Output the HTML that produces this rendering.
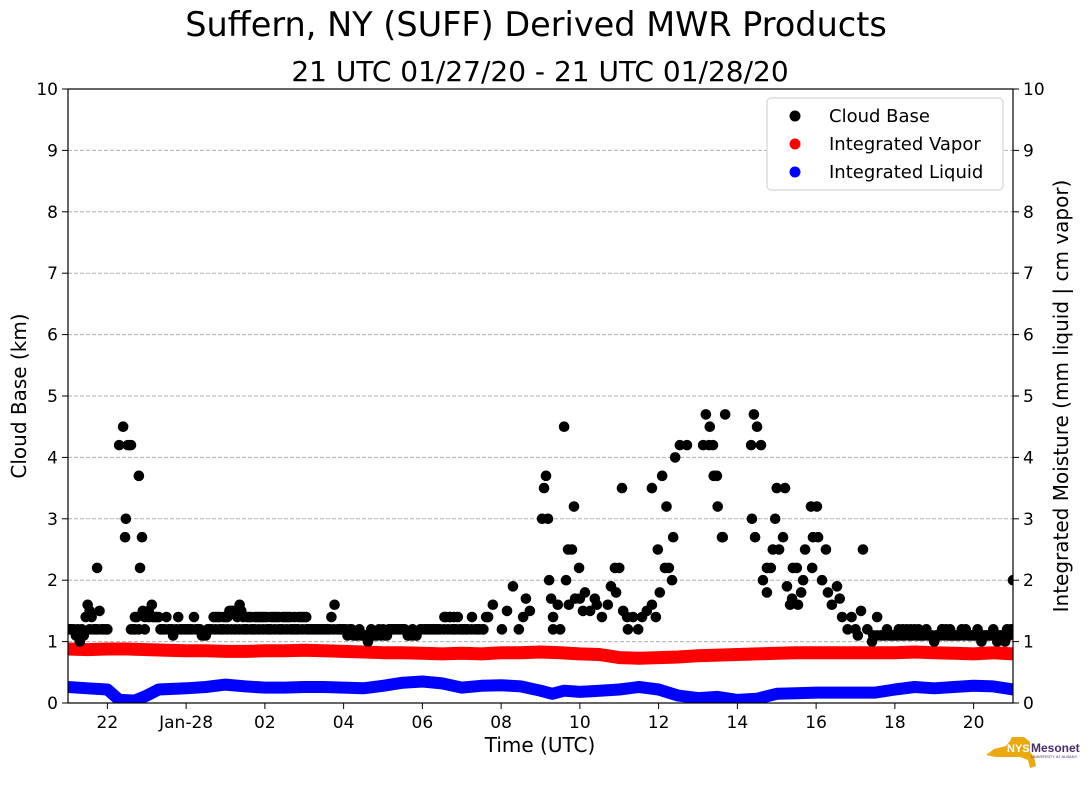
<!DOCTYPE html>
<html><head><meta charset="utf-8"><style>
body{margin:0;background:#fff;}
svg{display:block;font-family:"DejaVu Sans","Liberation Sans",sans-serif;}
</style></head><body>
<svg id="chart" width="1089" height="804" viewBox="0 0 1089 804" xmlns="http://www.w3.org/2000/svg">
<rect width="1089" height="804" fill="#fff"/>
<text x="536" y="36" font-size="33.5" text-anchor="middle">Suffern, NY (SUFF) Derived MWR Products</text>
<text x="540" y="81" font-size="28" text-anchor="middle">21 UTC 01/27/20 - 21 UTC 01/28/20</text>
<g id="grid"></g>
<g id="series"></g>
<rect x="68" y="89" width="945" height="614" fill="none" stroke="#000" stroke-width="1.2"/>
<g id="axes"></g>
<text x="540" y="752" font-size="20" text-anchor="middle">Time (UTC)</text>
<text transform="translate(26,396) rotate(-90)" font-size="20" text-anchor="middle">Cloud Base (km)</text>
<text transform="translate(1068,396) rotate(-90)" font-size="20" text-anchor="middle">Integrated Moisture (mm liquid | cm vapor)</text>
<g>
<rect x="767" y="98" width="236" height="92" rx="4" fill="#fff" stroke="#ccc"/>
<circle cx="795" cy="116" r="5.5" fill="#000"/>
<text x="829" y="122" font-size="18">Cloud Base</text>
<circle cx="795" cy="144" r="5.5" fill="#f00"/>
<text x="829" y="150" font-size="18">Integrated Vapor</text>
<circle cx="795" cy="172" r="5.5" fill="#00f"/>
<text x="829" y="178" font-size="18">Integrated Liquid</text>
</g>
<g>
<polygon points="1012,737 1024,737 1030,742 1030,752 1034,757 1036,766 1030,768 1028,760 1020,757 996,757 986,755 994,749 1006,746 1010,741" fill="#e9a90f"/>
<text x="1007" y="752" font-size="11" font-weight="bold" fill="#fff" font-family="Liberation Sans">NYS</text>
<text x="1031" y="752" font-size="12" font-weight="bold" fill="#4b2c6a" font-family="Liberation Sans">Mesonet</text>
<text x="1031" y="758" font-size="4" fill="#4b2c6a" font-family="Liberation Sans">UNIVERSITY AT ALBANY</text>
</g>
</svg>
<script>
const cbHours=[0,0.1,0.2,0.3,0.4,0.45,0.5,0.55,0.6,0.7,0.74,0.8,0.9,1.0,1.3,1.4,1.45,1.47,1.57,1.52,1.6,1.65,1.7,1.75,1.8,1.83,1.88,1.9,1.95,2.05,2.13,2.2,2.3,2.4,2.5,2.6,2.67,2.8,2.9,3.0,3.1,3.2,3.3,3.4,3.5,3.6,3.7,3.8,3.9,4.0,4.1,4.2,4.3,4.36,4.4,4.5,4.6,4.7,4.8,4.9,5.0,5.1,5.2,5.3,5.4,5.5,5.6,5.7,5.8,5.9,6.0,6.1,6.2,6.3,6.4,6.5,6.6,6.69,6.77,6.9,7.0,7.1,7.2,7.3,7.4,7.5,7.62,7.7,7.8,7.9,8.0,8.1,8.2,8.3,8.4,8.5,8.63,8.75,8.85,8.97,9.1,9.2,9.3,9.4,9.56,9.7,9.8,9.9,10.0,10.1,10.26,10.4,10.54,10.62,10.67,10.79,11.02,11.15,11.3,11.45,11.56,11.63,11.73,12.04,12.09,12.14,12.19,12.22,12.27,12.32,12.32,12.44,12.5,12.6,12.65,12.7,12.72,12.8,12.85,12.88,12.98,13.0,13.08,13.13,13.26,13.38,13.43,13.56,13.71,13.79,13.89,13.92,14.0,14.07,14.1,14.2,14.22,14.35,14.48,14.58,14.7,14.83,14.83,14.93,14.98,15.03,15.09,15.16,15.2,15.26,15.34,15.37,15.42,15.54,15.72,16.13,16.2,16.28,16.3,16.38,16.4,16.48,16.5,16.61,16.63,16.69,17.35,17.37,17.42,17.45,17.5,17.6,17.65,17.75,17.75,17.85,17.9,17.96,18.0,18.06,18.16,18.21,18.26,18.34,18.39,18.41,18.51,18.54,18.62,18.67,18.72,18.87,18.9,18.92,19.02,19.05,19.15,19.25,19.3,19.4,19.53,19.6,19.66,19.8,19.9,20.0,20.06,20.14,20.19,20.3,20.42,20.55,20.7,20.8,20.9,21.0,21.1,21.2,21.3,21.4,21.5,21.6,21.7,21.8,21.9,22.0,22.1,22.2,22.3,22.4,22.5,22.6,22.7,22.8,22.9,23.0,23.1,23.2,23.3,23.4,23.5,23.6,23.7,23.8,23.9,24.0];
const cbKm=[1.2,1.2,1.1,1.0,1.1,1.4,1.6,1.5,1.4,1.2,2.2,1.5,1.2,1.2,4.2,4.5,2.7,3.0,4.2,4.2,4.2,1.2,1.4,1.4,3.7,2.2,2.7,1.5,1.4,1.5,1.6,1.4,1.4,1.2,1.4,1.2,1.1,1.4,1.2,1.2,1.2,1.4,1.2,1.1,1.1,1.2,1.4,1.4,1.2,1.4,1.5,1.5,1.4,1.6,1.5,1.2,1.4,1.2,1.4,1.4,1.4,1.2,1.4,1.4,1.2,1.4,1.4,1.2,1.2,1.4,1.4,1.2,1.2,1.2,1.2,1.2,1.2,1.4,1.6,1.2,1.2,1.1,1.2,1.1,1.2,1.1,1.0,1.2,1.1,1.2,1.2,1.1,1.2,1.2,1.2,1.2,1.1,1.2,1.1,1.2,1.2,1.2,1.2,1.2,1.4,1.4,1.2,1.4,1.2,1.2,1.4,1.2,1.2,1.4,1.4,1.6,1.2,1.5,1.9,1.2,1.4,1.7,1.5,3.0,3.5,3.7,3.0,2.0,1.7,1.4,1.2,1.6,1.2,4.5,2.0,2.5,1.6,2.5,3.2,1.7,2.2,1.7,1.5,1.8,1.5,1.7,1.6,1.4,1.6,1.9,2.2,1.8,2.2,3.5,1.5,1.4,1.2,1.4,1.2,1.4,1.5,1.6,3.5,1.4,2.5,1.8,3.7,2.2,3.2,2.2,2.0,2.7,4.0,4.2,4.2,4.2,4.7,4.2,4.5,4.2,3.7,3.7,3.2,2.7,2.7,4.7,4.2,3.0,4.7,2.7,4.5,4.2,2.0,1.8,2.2,2.2,2.5,3.0,3.5,2.5,2.7,3.5,1.9,1.6,1.7,2.2,2.2,1.6,1.8,2.0,2.5,3.2,2.2,2.7,3.2,2.7,2.0,2.5,1.8,1.6,1.9,1.7,1.4,1.2,1.4,1.2,1.1,1.5,2.5,1.2,1.0,1.4,1.1,1.2,1.1,1.1,1.2,1.1,1.2,1.1,1.2,1.1,1.1,1.2,1.1,1.0,1.1,1.2,1.2,1.1,1.1,1.1,1.2,1.2,1.1,1.1,1.2,1.0,1.1,1.1,1.2,1.0,1.1,1.0,1.1,2.0];
const cbFillHours=[0.05,0.15,0.25,0.35,0.55,0.65,0.75,0.85,0.95,1.6,1.7,1.8,1.95,2.05,2.15,2.25,2.35,2.45,2.55,2.65,2.75,2.85,2.95,3.05,3.15,3.25,3.35,3.45,3.55,3.65,3.75,3.85,3.95,4.05,4.15,4.25,4.35,4.45,4.55,4.65,4.75,4.85,4.95,5.05,5.15,5.25,5.35,5.45,5.55,5.65,5.75,5.85,5.95,6.05,6.15,6.25,6.35,6.45,6.55,6.65,6.75,6.85,6.95,7.05,7.15,7.25,7.35,7.45,7.55,7.65,7.75,7.85,7.95,8.05,8.15,8.25,8.35,8.45,8.55,8.65,8.75,8.85,8.95,9.05,9.15,9.25,9.35,9.45,9.55,9.65,9.75,9.85,9.95,10.05,10.15,10.25,10.35,10.45,10.55,3.75,3.85,3.95,4.05,4.15,4.25,4.45,4.55,4.65,4.75,4.85,4.95,5.05,5.15,5.25,5.35,5.45,5.55,5.65,5.75,5.85,5.95,6.05,9.6,9.7,9.8,20.45,20.55,20.65,20.75,20.85,20.95,21.05,21.15,21.25,21.35,21.45,21.55,21.65,21.75,21.85,21.95,22.05,22.15,22.25,22.35,22.45,22.55,22.65,22.75,22.85,22.95,23.05,23.15,23.25,23.35,23.45,23.55,23.65,23.75,23.85,23.95,21.2,21.4,21.6,22.2,22.4,23.1,23.3];
const cbFillKm=[1.2,1.2,1.2,1.2,1.2,1.2,1.2,1.2,1.2,1.2,1.2,1.2,1.2,1.4,1.4,1.4,1.2,1.2,1.2,1.2,1.2,1.2,1.2,1.2,1.2,1.2,1.2,1.1,1.2,1.2,1.2,1.2,1.2,1.2,1.2,1.2,1.2,1.2,1.2,1.2,1.2,1.2,1.2,1.2,1.2,1.2,1.2,1.2,1.2,1.2,1.2,1.2,1.2,1.2,1.2,1.2,1.2,1.2,1.2,1.2,1.2,1.2,1.2,1.2,1.2,1.1,1.1,1.1,1.1,1.1,1.1,1.1,1.1,1.1,1.2,1.2,1.2,1.2,1.2,1.1,1.1,1.1,1.2,1.2,1.2,1.2,1.2,1.2,1.2,1.2,1.2,1.2,1.2,1.2,1.2,1.2,1.2,1.2,1.2,1.4,1.4,1.4,1.4,1.5,1.5,1.4,1.4,1.4,1.4,1.4,1.4,1.4,1.4,1.4,1.4,1.4,1.4,1.4,1.4,1.4,1.4,1.4,1.4,1.4,1.4,1.1,1.1,1.1,1.1,1.1,1.1,1.1,1.1,1.1,1.1,1.1,1.1,1.1,1.1,1.1,1.1,1.1,1.1,1.1,1.1,1.1,1.1,1.1,1.1,1.1,1.1,1.1,1.1,1.1,1.1,1.1,1.1,1.1,1.1,1.2,1.2,1.2,1.2,1.2,1.2,1.2];
const vapHours=[0,0.5,1,1.5,2,2.5,3,3.5,4,4.5,5,5.5,6,6.5,7,7.5,8,8.5,9,9.5,10,10.5,11,11.5,12,12.5,13,13.5,14,14.5,15,15.5,16,16.5,17,17.5,18,18.5,19,19.5,20,20.5,21,21.5,22,22.5,23,23.5,24];
const vapVals=[0.88,0.87,0.88,0.88,0.87,0.86,0.85,0.85,0.84,0.84,0.85,0.85,0.86,0.85,0.84,0.83,0.82,0.82,0.81,0.8,0.81,0.8,0.82,0.82,0.83,0.82,0.8,0.79,0.74,0.73,0.74,0.75,0.77,0.78,0.79,0.8,0.81,0.82,0.82,0.82,0.82,0.82,0.82,0.83,0.82,0.81,0.8,0.82,0.8];
const liqHours=[0,0.5,1,1.3,1.7,2,2.3,3,3.5,4,4.5,5,5.5,6,6.5,7,7.5,8,8.5,9,9.5,10,10.5,11,11.5,12,12.3,12.6,13,13.5,14,14.5,15,15.5,16,16.5,17,17.5,18,18.5,19,19.5,20,20.5,21,21.5,22,22.5,23,23.5,24];
const liqVals=[0.26,0.24,0.22,0.05,0.04,0.12,0.22,0.24,0.26,0.3,0.27,0.25,0.25,0.26,0.26,0.25,0.24,0.28,0.33,0.35,0.32,0.25,0.28,0.29,0.27,0.2,0.15,0.2,0.18,0.2,0.22,0.26,0.22,0.12,0.08,0.1,0.05,0.07,0.15,0.16,0.17,0.17,0.17,0.17,0.22,0.26,0.24,0.26,0.28,0.27,0.22];
const xTickHours=[1,3,5,7,9,11,13,15,17,19,21,23];
const xTickLabels=["22","Jan-28","02","04","06","08","10","12","14","16","18","20"];
const yTicks=[0,1,2,3,4,5,6,7,8,9,10];

const NS="http://www.w3.org/2000/svg";
const X0=68,X1=1013,Y0=703,Y1=89;
const xs=h=>X0+(h/24)*(X1-X0);
const ys=v=>Y0-(v/10)*(Y0-Y1);
function mk(tag,attrs,parent){const e=document.createElementNS(NS,tag);for(const k in attrs)e.setAttribute(k,attrs[k]);parent.appendChild(e);return e;}
const grid=document.getElementById('grid'),series=document.getElementById('series'),axes=document.getElementById('axes');
yTicks.forEach(v=>{
  if(v>0&&v<10){const g=mk('line',{x1:X0,x2:X1,y1:ys(v),y2:ys(v),stroke:'#b0b0b0','stroke-dasharray':'4,2','stroke-width':1},grid);
  
  }
  [[X0,-6,'end',-10],[X1,6,'start',10]].forEach(([x,d,anc,off])=>{
    mk('line',{x1:x,x2:x+d,y1:ys(v),y2:ys(v),stroke:'#000'},axes);
    const t=mk('text',{x:x+off,y:ys(v)+6,'font-size':17,'text-anchor':anc},axes);
    
    
    t.textContent=v;
  });
});
xTickHours.forEach((h,i)=>{
  mk('line',{x1:xs(h),x2:xs(h),y1:Y0,y2:Y0+6,stroke:'#000'},axes);
  const t=mk('text',{x:xs(h),y:Y0+25,'font-size':17,'text-anchor':'middle'},axes);
  
  
  t.textContent=xTickLabels[i];
});
const clip=mk('clipPath',{id:'pc'},series);mk('rect',{x:X0,y:Y1,width:X1-X0,height:Y0-Y1},clip);
const inner=mk('g',{'clip-path':'url(#pc)'},series);
function band(hrs,vals,color,name,w){
  const pts=hrs.map((h,i)=>xs(h).toFixed(1)+','+ys(vals[i]).toFixed(1)).join(' ');
  const p=mk('polyline',{points:pts,fill:'none',stroke:color,'stroke-width':w,'stroke-linejoin':'round','stroke-linecap':'round'},inner);
  
  
}
band(vapHours,vapVals,'#f00','integrated-vapor-series',13);
band(liqHours,liqVals,'#00f','integrated-liquid-series',12);
function dots(hrs,kms){
  hrs.forEach((h,i)=>{
    const c=mk('circle',{cx:xs(h),cy:ys(kms[i]),r:5.3,fill:'#000'},inner);
    
    
  });
}
dots(cbHours,cbKm);
dots(cbFillHours,cbFillKm);
</script>
</body></html>
